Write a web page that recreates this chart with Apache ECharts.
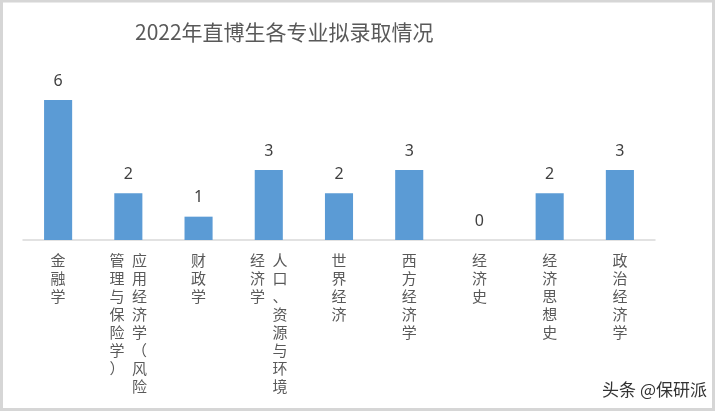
<!DOCTYPE html>
<html>
<head>
<meta charset="utf-8">
<script src="https://cdn.jsdelivr.net/npm/echarts@6/dist/echarts.min.js"></script>
<style>
html, body { margin: 0; padding: 0; background: #fff; }
#chart { width: 720px; height: 411px; }
</style>
</head>
<body>
<div id="chart"></div>
<script>
// 专业名称
var categories = ['金融学', '应用经济学（风险管理与保险学）', '财政学', '人口、资源与环境经济学',
	'世界经济', '西方经济学', '经济史', '经济思想史', '政治经济学'];
// 拟录取人数
var admitted = [6, 2, 1, 3, 2, 3, 0, 2, 3];
var titleText = '2022年直博生各专业拟录取情况';
var markText = '头条 @保研派';

// 竖排标签: 每列最多8个字, 列从右往左排
function verticalLabel(name) {
	var chars = name.split('');
	var right = chars.slice(0, 8), left = chars.slice(8);
	var lines = [];
	for (var i = 0; i < right.length; i++) {
		if (left.length) {
			lines.push((left[i] || '\u3000') + '\u2002' + right[i]);
		} else {
			lines.push(right[i]);
		}
	}
	return lines.join('\n');
}

var myChart = echarts.init(document.getElementById('chart'));
var option = {
	backgroundColor: '#fff',
	animation: false,
	title: {
		text: titleText,
		left: 130,
		top: 17,
		textStyle: {
			fontFamily: 'Noto Sans CJK SC',
			fontSize: 21,
			fontWeight: 'normal',
			color: '#595959'
		}
	},
	grid: {
		left: 23,
		right: 65,
		top: 100,
		bottom: 171
	},
	xAxis: {
		type: 'category',
		data: categories,
		axisLine: { lineStyle: { color: '#d9d9d9', width: 1.5 } },
		axisTick: { show: false },
		axisLabel: {
			interval: 0,
			margin: 11,
			verticalAlign: 'top',
			fontFamily: 'Noto Sans CJK SC',
			fontSize: 15,
			lineHeight: 18,
			color: '#595959',
			formatter: verticalLabel
		}
	},
	yAxis: {
		type: 'value',
		min: 0,
		max: 6,
		show: false
	},
	series: [{
		type: 'bar',
		data: admitted,
		barWidth: '40%',
		itemStyle: { color: '#5b9bd5' },
		label: {
			show: true,
			position: 'top',
			distance: 11,
			fontFamily: 'Noto Sans',
			fontSize: 16,
			color: '#404040'
		}
	}],
	graphic: [{
		type: 'rect',
		shape: { x: 1.5, y: 1, width: 712, height: 408.5 },
		style: { fill: 'none', stroke: '#d6d6d6', lineWidth: 3 },
		silent: true
	}, {
		type: 'text',
		right: 12,
		top: 380,
		style: {
			text: markText,
			fontFamily: 'Noto Sans CJK SC',
			fontSize: 17,
			fill: '#333',
			stroke: '#fff',
			lineWidth: 2
		}
	}]
};
myChart.setOption(option);
</script>
</body>
</html>
